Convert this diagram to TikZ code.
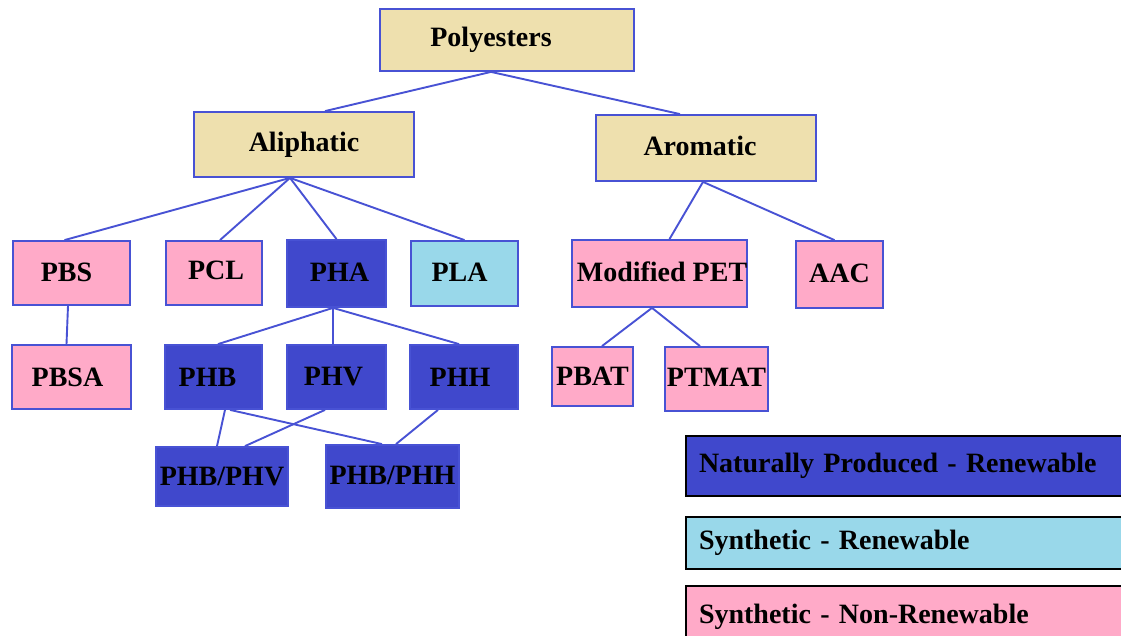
\documentclass[tikz,border=0pt]{standalone}
\usepackage{fontspec}
\setmainfont{Liberation Serif}
\definecolor{bluefill}{RGB}{64,72,204}
\definecolor{blueline}{RGB}{72,82,212}
\definecolor{pinkfill}{RGB}{255,170,200}
\definecolor{khaki}{RGB}{238,224,174}
\definecolor{lightblue}{RGB}{153,216,234}
\tikzset{
  box/.style={draw=blueline, line width=1.8pt, inner sep=0pt, font=\fontsize{28}{32}\selectfont\bfseries},
  khakibox/.style={box, fill=khaki},
  pinkbox/.style={box, fill=pinkfill},
  bluebox/.style={box, fill=bluefill},
  cyanbox/.style={box, fill=lightblue},
  link/.style={draw=blueline, line width=1.9pt},
  legendbox/.style={draw=black, line width=2pt, anchor=west, minimum width=460pt, text width=434pt, align=left, inner xsep=13pt, inner ysep=0pt, font=\fontsize{28}{32}\selectfont\bfseries}
}
\begin{document}
\begin{tikzpicture}[x=1pt,y=-1pt]
\useasboundingbox (0,0) rectangle (1121,636);
\fill[white] (0,0) rectangle (1121,636);
% top levels
\node[khakibox, minimum width=254pt, minimum height=62pt] (poly) at (507,40) {\hspace*{-32pt}\raisebox{2pt}{Polyesters}};
\node[khakibox, minimum width=220pt, minimum height=65pt] (ali) at (304,144.5) {Aliphatic};
\node[khakibox, minimum width=220pt, minimum height=66pt] (aro) at (706,148) {\hspace*{-12pt}\raisebox{5pt}{Aromatic}};
% third row
\node[pinkbox, minimum width=117pt, minimum height=64pt] (pbs) at (71.5,273) {\hspace*{-10pt}\raisebox{2pt}{PBS}};
\node[pinkbox, minimum width=96pt, minimum height=64pt] (pcl) at (214,273) {\hspace*{4pt}\raisebox{5pt}{PCL}};
\node[bluebox, minimum width=99pt, minimum height=67pt] (pha) at (336.5,273.5) {\hspace*{6pt}\raisebox{3pt}{PHA}};
\node[cyanbox, minimum width=107pt, minimum height=65pt] (pla) at (464.5,273.5) {\hspace*{-10pt}\raisebox{3pt}{PLA}};
\node[pinkbox, minimum width=173pt, minimum height=67pt] (mpet) at (659.5,273.5) {\hspace*{5pt}\raisebox{3pt}{Modified PET}};
\node[pinkbox, minimum width=87pt, minimum height=67pt] (aac) at (839.5,274.5) {\raisebox{2pt}{AAC}};
% fourth row
\node[pinkbox, minimum width=119pt, minimum height=64pt] (pbsa) at (71.5,377) {\hspace*{-8pt}PBSA};
\node[bluebox, minimum width=97pt, minimum height=64pt] (phb) at (213.5,377) {\hspace*{-12pt}PHB};
\node[bluebox, minimum width=99pt, minimum height=64pt] (phv) at (336.5,377) {\hspace*{-6pt}PHV};
\node[bluebox, minimum width=108pt, minimum height=64pt] (phh) at (464,377) {\hspace*{-8pt}PHH};
\node[pinkbox, minimum width=81pt, minimum height=59pt] (pbat) at (592.5,376.5) {PBAT};
\node[pinkbox, minimum width=103pt, minimum height=64pt] (ptmat) at (716.5,379) {\raisebox{3pt}{PTMAT}};
% fifth row
\node[bluebox, minimum width=132pt, minimum height=59pt] (phbphv) at (222,476.5) {PHB/PHV};
\node[bluebox, minimum width=133pt, minimum height=63pt] (phbphh) at (392.5,476.5) {\raisebox{2pt}{PHB/PHH}};
% connectors
\draw[link] ([xshift=-16pt]poly.south) -- ([xshift=21pt]ali.north);
\draw[link] ([xshift=-16pt]poly.south) -- ([xshift=-26pt]aro.north);
\draw[link] ([xshift=-14pt]ali.south) -- ([xshift=-7pt]pbs.north);
\draw[link] ([xshift=-14pt]ali.south) -- ([xshift=6pt]pcl.north);
\draw[link] ([xshift=-14pt]ali.south) -- (pha.north);
\draw[link] ([xshift=-14pt]ali.south) -- (pla.north);
\draw[link] ([xshift=-3pt]aro.south) -- ([xshift=10pt]mpet.north);
\draw[link] ([xshift=-3pt]aro.south) -- ([xshift=-5pt]aac.north);
\draw[link] ([xshift=-3.5pt]pbs.south) -- ([xshift=-5pt]pbsa.north);
\draw[link] ([xshift=-3.5pt]pha.south) -- ([xshift=4.5pt]phb.north);
\draw[link] ([xshift=-3.5pt]pha.south) -- ([xshift=-3.5pt]phv.north);
\draw[link] ([xshift=-3.5pt]pha.south) -- ([xshift=-5pt]phh.north);
\draw[link] ([xshift=-7.5pt]mpet.south) -- ([xshift=9.5pt]pbat.north);
\draw[link] ([xshift=-7.5pt]mpet.south) -- ([xshift=-16.5pt]ptmat.north);
\draw[link] ([xshift=11.5pt]phb.south) -- ([xshift=-5pt]phbphv.north);
\draw[link] ([xshift=16.5pt]phb.south) -- ([xshift=-10.5pt]phbphh.north);
\draw[link] ([xshift=-11.5pt]phv.south) -- ([xshift=23pt]phbphv.north);
\draw[link] ([xshift=-26pt]phh.south) -- ([xshift=3.5pt]phbphh.north);
% legend
\node[legendbox, fill=bluefill, minimum height=60pt] (leg1) at (685,466) {Naturally Produced - Renewable};
\node[legendbox, fill=lightblue, minimum height=52pt] (leg2) at (685,543) {Synthetic - Renewable};
\node[legendbox, fill=pinkfill, minimum height=62pt] (leg3) at (685,617) {\raisebox{-3pt}{Synthetic - Non-Renewable}};
\end{tikzpicture}
\end{document}
